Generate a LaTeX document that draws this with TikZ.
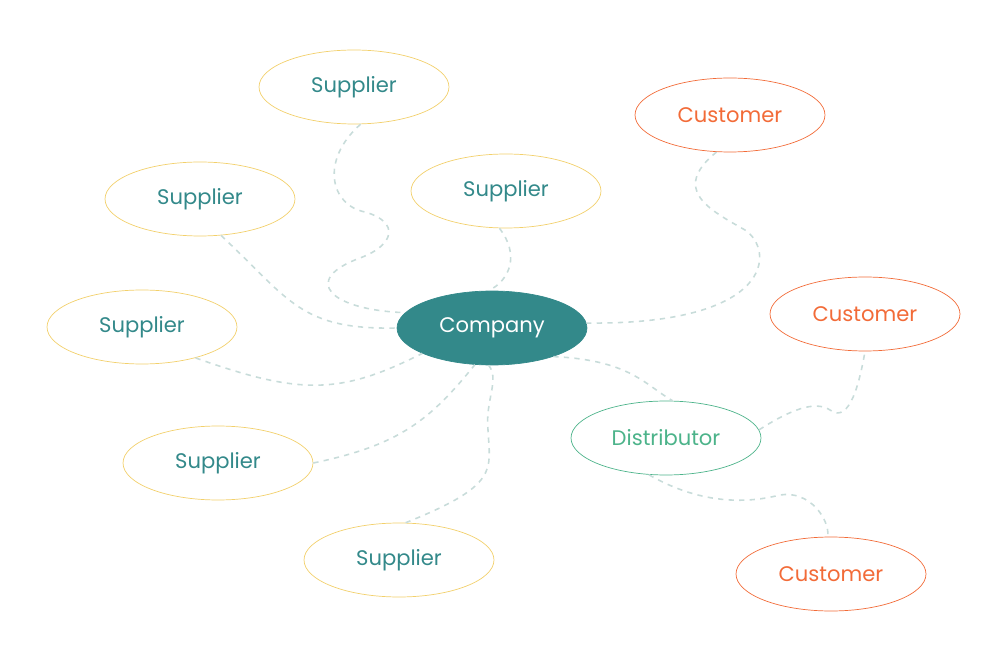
\documentclass[tikz,border=0pt]{standalone}
\usepackage{fontspec}
\setmainfont{Poppins}
\usetikzlibrary{shapes.geometric}
\definecolor{teal}{HTML}{33898A}
\definecolor{sup}{HTML}{F2D06B}
\definecolor{cust}{HTML}{F26B38}
\definecolor{dist}{HTML}{4CB38A}
\definecolor{link}{HTML}{C8DCDA}
\begin{document}
\begin{tikzpicture}[x=0.02cm,y=-0.02cm,
    every node/.style = {shape=ellipse, draw, minimum width=3.8cm,
        minimum height=1.48cm, font=\fontsize{12}{14}\selectfont},
    supplier/.style = {draw=sup, text=teal},
    customer/.style = {draw=cust, text=cust},
    link/.style = {draw=link, dashed, line width=0.9pt}]
    \useasboundingbox (0,0) rectangle (987,658);
    \node[fill=teal, draw=teal, text=white] (company) at (492,328) {Company};
    \node[supplier] (s1) at (354,87) {Supplier};
    \node[supplier] (s2) at (200,199) {Supplier};
    \node[supplier] (s3) at (506,191) {Supplier};
    \node[supplier] (s4) at (142,327) {Supplier};
    \node[supplier] (s5) at (218,463) {Supplier};
    \node[supplier] (s6) at (399,560) {Supplier};
    \node[customer] (c1) at (730,115) {Customer};
    \node[customer] (c2) at (865,314) {Customer};
    \node[customer] (c3) at (831,574) {Customer};
    \node[draw=dist, text=dist] (dist) at (666,438) {Distributor};
    \draw[link] (s1.-80) .. controls (320,160) and (330,205) .. (365,212)
        .. controls (400,222) and (395,245) .. (360,258)
        .. controls (300,280) and (330,310) .. (company.170);
    \draw[link] (s2.-60) .. controls (290,300) and (300,330) .. (company.180);
    \draw[link] (s3.-100) .. controls (520,255) and (510,280) .. (company.95);
    \draw[link] (s4.-30) .. controls (300,395) and (340,395) .. (company.-160);
    \draw[link] (s5.0) .. controls (400,445) and (430,420) .. (company.-115);
    \draw[link] (s6.80) .. controls (500,485) and (490,470) .. (488,430)
        .. controls (485,400) and (500,380) .. (company.-95);
    \draw[link] (c1.-110) .. controls (670,190) and (710,210) .. (745,230)
        .. controls (775,250) and (775,325) .. (company.3);
    \draw[link] (company.-25) .. controls (630,360) and (645,385) .. (dist.80);
    \draw[link] (dist.5) .. controls (790,410) and (815,400) .. (830,410)
        .. controls (850,425) and (860,380) .. (c2.-90);
    \draw[link] (dist.-115) .. controls (710,510) and (760,500) .. (780,495)
        .. controls (810,490) and (830,520) .. (c3.95);
\end{tikzpicture}
\end{document}
